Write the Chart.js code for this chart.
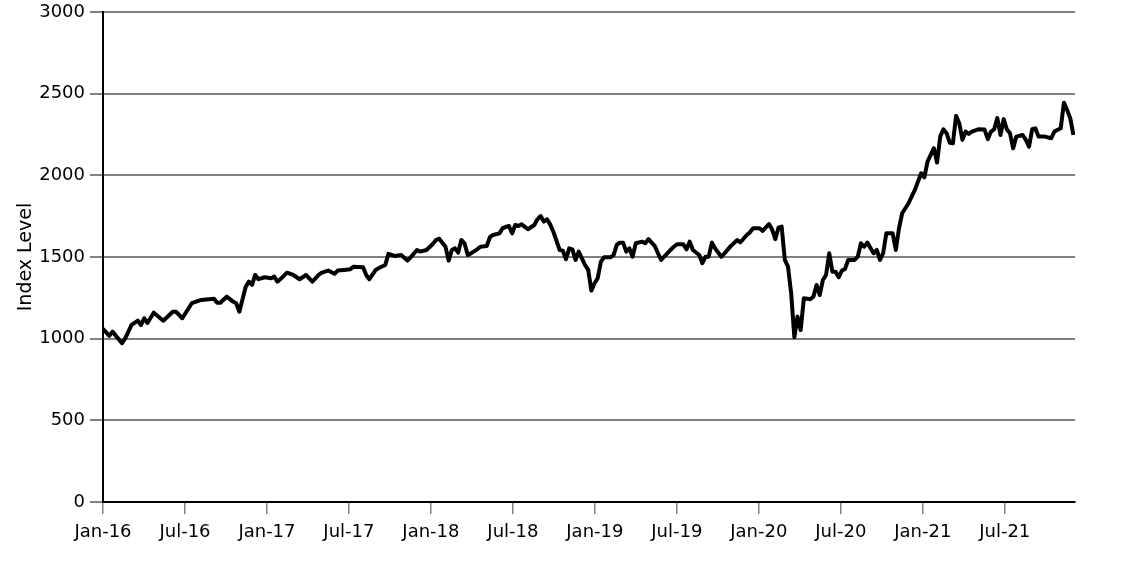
<!DOCTYPE html>
<html>
<head>
<meta charset="utf-8">
<script src="https://cdn.jsdelivr.net/npm/chart.js@4.4.1/dist/chart.umd.min.js"></script>
<style>
  html, body { margin: 0; padding: 0; background: #fff; }
</style>
</head>
<body>
<canvas id="chart" width="1146" height="573"></canvas>
<script>
// weeks since the first week of Jan 2016
const weeks = [0,2,3,6,7,9,11,12,13,14,16,19,22,23,25,28,31,35,36,37,39,41,42,43,45,46,47,48,49,51,53,54,55,57,58,60,
  62,64,65,66,68,69,71,73,74,76,78,79,82,83,84,86,87,89,90,92,94,96,97,99,100,102,104,105,106,108,109,110,111,112,113,114,
  115,116,118,119,121,122,123,125,126,128,129,130,131,132,134,136,137,138,139,140,141,142,144,145,146,147,148,149,150,152,
  153,154,155,156,157,158,160,161,162,163,164,165,166,167,168,170,171,172,174,175,176,178,180,181,183,184,185,186,188,189,
  190,191,192,193,195,196,198,200,201,203,204,205,207,208,210,211,212,213,214,215,216,217,218,219,220,221,223,224,225,226,
  227,228,229,230,231,232,233,234,235,237,238,239,240,241,243,244,245,246,247,249,250,251,252,254,256,257,258,259,260,262,
  263,264,265,266,267,268,269,270,271,272,273,274,276,278,279,280,281,282,283,284,285,286,287,288,290,291,292,293,294,295,
  297,299,300,302,303,304,305,306];

const indexLevel = [1060,1017,1043,972,1002,1084,1110,1084,1125,1096,1159,1110,1165,1165,1125,1217,1237,1245,1220,1220,1257,
  1227,1217,1165,1318,1349,1329,1390,1364,1376,1370,1380,1349,1384,1404,1390,
  1364,1390,1370,1349,1390,1404,1417,1397,1417,1421,1425,1441,1437,1390,1364,1421,1433,1451,1519,1506,1512,1478,1498,1543,
  1533,1543,1580,1604,1612,1563,1478,1543,1553,1527,1604,1584,
  1512,1522,1547,1563,1567,1621,1635,1645,1676,1690,1645,1696,1690,1700,1670,1696,1731,1751,1717,1731,1700,1655,1543,1539,
  1486,1553,1547,1482,1533,1451,
  1421,1294,1339,1370,1472,1498,1498,1512,1574,1588,1588,1533,1553,1502,1584,1594,1584,1609,1567,1523,1482,1523,1563,1578,
  1578,1547,1594,1543,1512,1462,
  1502,1502,1588,1553,1502,1523,1568,1604,1590,1635,1651,1676,1676,1660,1702,1668,1609,1680,1686,1482,1441,1278,1009,1135,
  1053,1247,1241,1257,1329,1267,
  1359,1390,1523,1410,1410,1376,1417,1427,1482,1482,1502,1584,1563,1588,1523,1543,1482,1523,1645,1645,1543,1676,1768,1829,
  1911,1962,2013,1988,2084,2166,
  2078,2237,2282,2258,2200,2196,2364,2319,2217,2268,2254,2268,2282,2280,2221,2268,2282,2350,2247,2344,2282,2258,2166,2237,
  2247,2217,2176,2282,2288,2237,
  2237,2227,2268,2288,2445,2401,2350,2247];

const tickLabels = ['Jan-16','Jul-16','Jan-17','Jul-17','Jan-18','Jul-18','Jan-19','Jul-19','Jan-20','Jul-20','Jan-21','Jul-21'];
const tickStepWeeks = 25.85;

const font = { family: 'DejaVu Sans', size: 18 };

const ctx = document.getElementById('chart').getContext('2d');
new Chart(ctx, {
    type: 'line',
    data: {
        datasets: [{
            data: weeks.map((w, i) => ({ x: w, y: indexLevel[i] })),
            borderColor: '#000',
            borderWidth: 4,
            pointRadius: 0,
            tension: 0,
            borderJoinStyle: 'round'
        }]
    },
    options: {
        responsive: false,
        devicePixelRatio: 1,
        animation: false,
        layout: { padding: { top: 12, right: 71, left: 0, bottom: 0 } },
        plugins: { legend: { display: false }, tooltip: { enabled: false } },
        scales: {
            x: {
                type: 'linear',
                min: 0,
                max: 306.5,
                afterBuildTicks: (scale) => {
                    scale.ticks = tickLabels.map((l, i) => ({ value: i * tickStepWeeks }));
                },
                afterFit: (scale) => {
                    scale.height = 71;
                    scale.paddingLeft = 0;
                    scale.paddingRight = 0;
                },
                ticks: {
                    autoSkip: false,
                    maxRotation: 0,
                    padding: 8,
                    color: '#000',
                    font: font,
                    callback: (value, index) => tickLabels[index]
                },
                grid: { drawOnChartArea: false, color: '#808080', lineWidth: 1.5, tickLength: 12 },
                border: { color: '#000', width: 2 }
            },
            y: {
                min: 0,
                max: 3000,
                afterFit: (scale) => {
                    scale.width = 103;
                    scale.paddingTop = 0;
                    scale.paddingBottom = 0;
                },
                ticks: { stepSize: 500, padding: 5, color: '#000', font: font, callback: (v) => String(v) },
                grid: { color: '#808080', lineWidth: 2, tickLength: 13 },
                border: { color: '#000', width: 2 },
                title: { display: true, text: 'Index Level', color: '#000', font: { family: 'DejaVu Sans', size: 19 }, padding: { top: 15, bottom: 0 } }
            }
        }
    }
});
</script>
</body>
</html>
